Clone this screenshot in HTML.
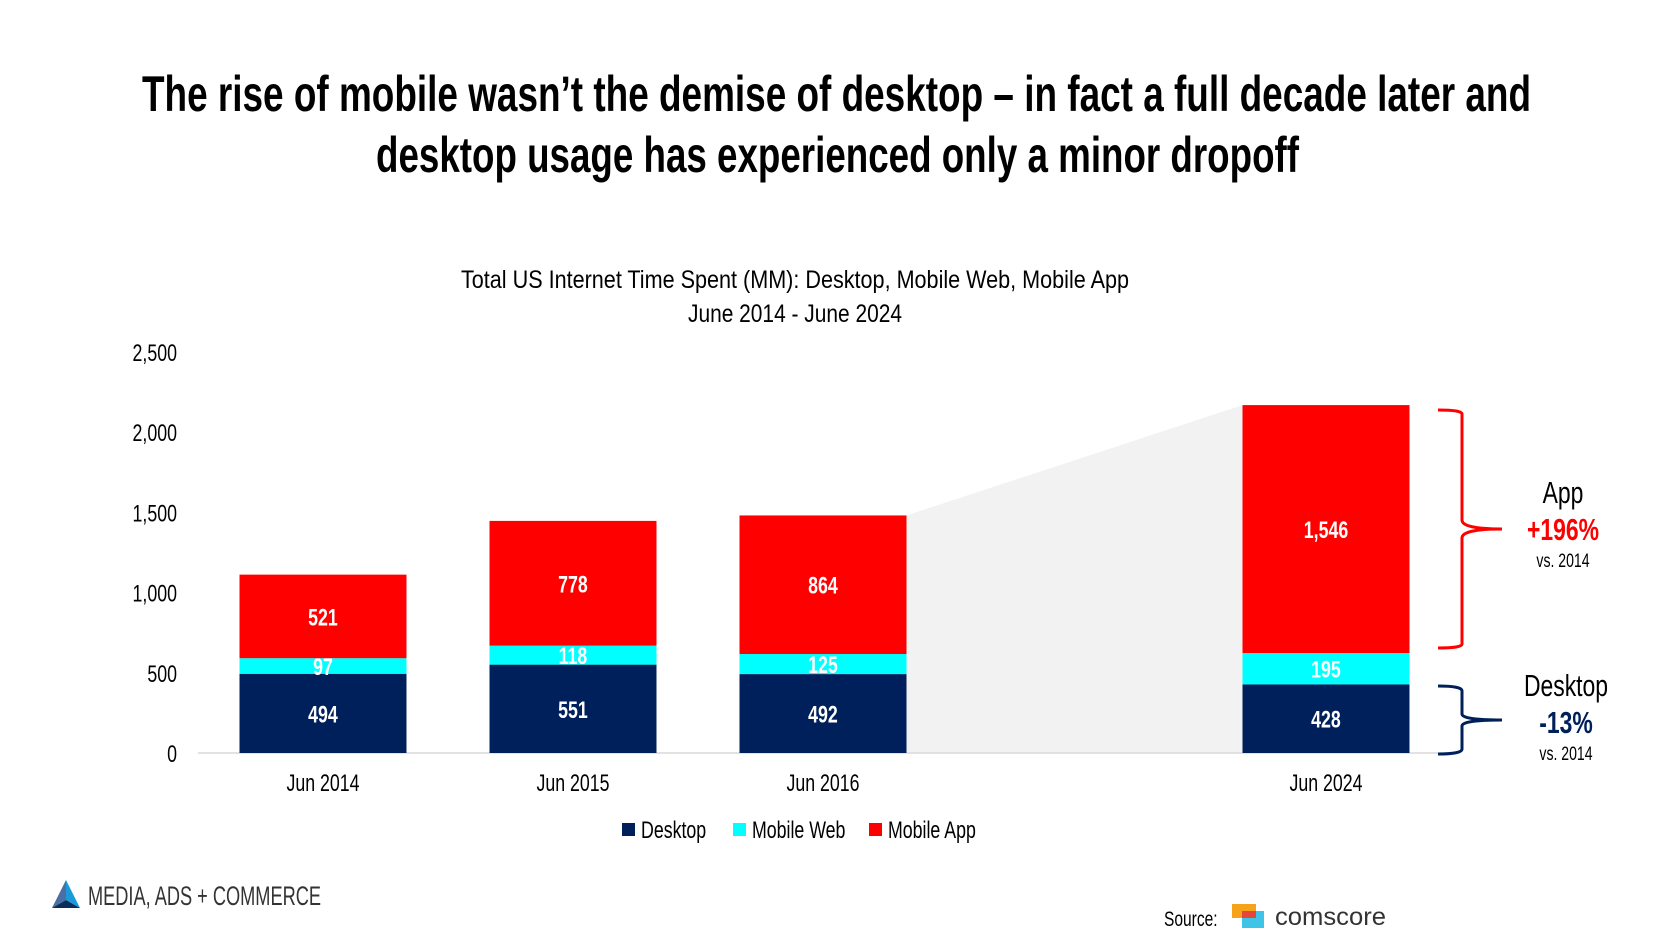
<!DOCTYPE html>
<html><head><meta charset="utf-8">
<style>
html,body{margin:0;padding:0;background:#fff;}
body{width:1674px;height:940px;overflow:hidden;position:relative;font-family:"Liberation Sans Narrow","Liberation Sans",sans-serif;}
svg text{font-family:"Liberation Sans Narrow","Liberation Sans",sans-serif;}
</style></head>
<body>
<svg id="chart" width="1674" height="940" viewBox="0 0 1674 940">
  <text class="fixed" x="142" y="111" font-size="50" font-weight="bold" textLength="1389" lengthAdjust="spacingAndGlyphs" fill="#000">The rise of mobile wasn’t the demise of desktop – in fact a full decade later and</text>
  <text class="fixed" x="376" y="172" font-size="50" font-weight="bold" textLength="923" lengthAdjust="spacingAndGlyphs" fill="#000">desktop usage has experienced only a minor dropoff</text>
  <text class="fixed" x="461" y="288" font-size="25" textLength="668" lengthAdjust="spacingAndGlyphs" fill="#000">Total US Internet Time Spent (MM): Desktop, Mobile Web, Mobile App</text>
  <text class="fixed" x="688" y="322" font-size="25" textLength="214" lengthAdjust="spacingAndGlyphs" fill="#000">June 2014 - June 2024</text>
  <g id="plot"></g>
  <g id="legend"></g>
  <path d="M1438,410 Q1462,410 1462,414 L1462,520 Q1462,529 1502,529 Q1462,529 1462,538 L1462,644 Q1462,648 1438,648" fill="none" stroke="#ff0000" stroke-width="3"/>
  <path d="M1438,686 Q1462,686 1462,691 L1462,714 Q1462,720 1502,720 Q1462,720 1462,726 L1462,749 Q1462,754 1438,754" fill="none" stroke="#00205b" stroke-width="3"/>
  <text x="1563" y="503" font-size="31" text-anchor="middle" fill="#000">App</text>
  <text x="1563" y="540" font-size="31" font-weight="bold" text-anchor="middle" fill="#ff0000">+196%</text>
  <text x="1563" y="567" font-size="19" text-anchor="middle" fill="#000">vs. 2014</text>
  <text x="1566" y="696" font-size="31" text-anchor="middle" fill="#000">Desktop</text>
  <text x="1566" y="733" font-size="31" font-weight="bold" text-anchor="middle" fill="#00205b">-13%</text>
  <text x="1566" y="760" font-size="19" text-anchor="middle" fill="#000">vs. 2014</text>
  <g>
    <polygon points="66,880 52,908 66,900" fill="#4a6fa5"/>
    <polygon points="66,880 80,908 66,900" fill="#1a9ad6"/>
    <polygon points="52,908 80,908 66,900" fill="#0b2d5b"/>
    <text class="fixed" x="88" y="905" font-size="27" textLength="233" lengthAdjust="spacingAndGlyphs" fill="#333">MEDIA, ADS + COMMERCE</text>
  </g>
  <g>
    <text x="1164" y="926" font-size="21" fill="#000">Source:</text>
    <rect x="1232" y="904" width="24" height="14" fill="#f7a21b"/>
    <rect x="1242" y="911" width="22" height="17" fill="#3fc4e8"/>
    <rect x="1242" y="911" width="14" height="7" fill="#e5463a"/>
    <text class="fixed" x="1275" y="925" font-size="25" textLength="111" lengthAdjust="spacingAndGlyphs" fill="#333">comscore</text>
  </g>
</svg>
<script>
const categories = ["Jun 2014","Jun 2015","Jun 2016","Jun 2024"];
const desktop = [494,551,492,428];
const mobileWeb = [97,118,125,195];
const mobileApp = [521,778,864,1546];
const yTicks = [0,500,1000,1500,2000,2500];
const tickLabels = ["0","500","1,000","1,500","2,000","2,500"];

const NS="http://www.w3.org/2000/svg";
const plot=document.getElementById('plot');
const legend=document.getElementById('legend');
const y0=753, yTop=352, yMax=2500;
const yScale=v=>y0-(v/yMax)*(y0-yTop);
const centers=[323,573,823,1326];
const xScale=i=>centers[i];
const bw=167;
function mk(tag,attrs,parent){const e=document.createElementNS(NS,tag);for(const k in attrs)e.setAttribute(k,attrs[k]);parent.appendChild(e);return e;}
function fmt(v){return v.toLocaleString('en-US');}

const t3=desktop[2]+mobileWeb[2]+mobileApp[2], t4=desktop[3]+mobileWeb[3]+mobileApp[3];
const shade=mk('polygon',{points:`${xScale(2)+bw/2},${yScale(t3)} ${xScale(3)-bw/2},${yScale(t4)} ${xScale(3)-bw/2},${y0} ${xScale(2)+bw/2},${y0}`,fill:'#f2f2f2'},plot);



const axis=mk('line',{x1:198,x2:1438,y1:y0,y2:y0,stroke:'#d9d9d9','stroke-width':1.5},plot);



yTicks.forEach((t,i)=>{
  const tx=mk('text',{x:177,y:yScale(t)+9,'font-size':24,'text-anchor':'end',fill:'#000'},plot);
  tx.textContent=tickLabels[i];
  
  
});

const series=[[desktop,'#00205b','desktop'],[mobileWeb,'#00ffff','mobile-web'],[mobileApp,'#ff0000','mobile-app']];
categories.forEach((c,i)=>{
  let base=0;
  series.forEach(([arr,col,nm])=>{
    const v=arr[i];
    const yt=yScale(base+v), yb=yScale(base);
    const r=mk('rect',{x:xScale(i)-bw/2,y:yt,width:bw,height:yb-yt,fill:col},plot);
    
    
    const t=mk('text',{x:xScale(i),y:(yt+yb)/2+9,'font-size':24,'font-weight':'bold','text-anchor':'middle',fill:'#fff'},plot);
    t.textContent=fmt(v);
    
    
    base+=v;
  });
  const cl=mk('text',{x:xScale(i),y:791,'font-size':24,'text-anchor':'middle',fill:'#000'},plot);
  cl.textContent=c;
  
  
});

const leg=[['Desktop','#00205b',622],['Mobile Web','#00ffff',733],['Mobile App','#ff0000',869]];
leg.forEach(([n,col,x])=>{
  const s=mk('rect',{x:x,y:823,width:13,height:13,fill:col},legend);
  
  
  const t=mk('text',{x:x+19,y:838,'font-size':24,fill:'#000'},legend);
  t.textContent=n;
  
  
});

const SX=0.74;
document.querySelectorAll('svg text:not(.fixed)').forEach(t=>{
  const x=parseFloat(t.getAttribute('x'));
  t.setAttribute('transform',`translate(${x},0) scale(${SX},1) translate(${-x},0)`);
});
</script>
</body></html>
